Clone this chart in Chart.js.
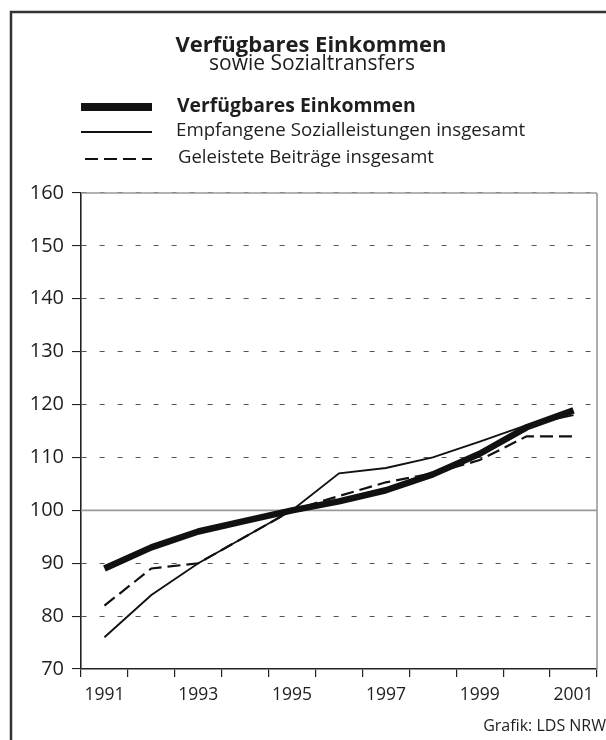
<!DOCTYPE html>
<html>
<head>
<meta charset="utf-8">
<script src="https://cdn.jsdelivr.net/npm/chart.js@4"></script>
<style>
  html, body { margin: 0; padding: 0; background: #fff; }
  canvas { display: block; }
</style>
</head>
<body>
<canvas id="grafik" width="606" height="740"></canvas>
<script>
// Daten (Index 1995 = 100)
const jahre = ['1991', '1992', '1993', '1994', '1995', '1996', '1997', '1998', '1999', '2000', '2001'];
const einkommen = [89, 93, 96, 98, 100, 101.7, 103.8, 106.8, 110.7, 115.7, 118.9];
const sozialleistungen = [76, 84, 90, 95, 100, 107, 108, 110, 113, 116.1, 118];
const beitraege = [82, 89, 90, 95, 100, 102.7, 105.3, 107, 109.5, 114, 114];
const yMin = 70;
const yMax = 160;
const yStep = 10;

const titel = 'Verfügbares Einkommen';
const untertitel = 'sowie Sozialtransfers';
const legende = ['Verfügbares Einkommen', 'Empfangene Sozialleistungen insgesamt', 'Geleistete Beiträge insgesamt'];
const quelle = 'Grafik: LDS NRW';

const schrift = '"Open Sans", "Noto Sans", sans-serif';
const textFarbe = '#1e1e1e';

// Rahmen, Titel, Legende und Hilfslinien
const dekoration = {
    id: 'dekoration',
    beforeDatasetsDraw(chart) {
        const ctx = chart.ctx;
        const area = chart.chartArea;
        const y = chart.scales.y;
        ctx.save();
        // graue durchgehende Linien (100 und oberer Rand) + rechter Rand
        ctx.strokeStyle = '#9a9a9a';
        ctx.lineWidth = 1.6;
        ctx.beginPath();
        const y100 = y.getPixelForValue(100);
        ctx.moveTo(area.left, y100); ctx.lineTo(area.right, y100);
        ctx.moveTo(area.left, area.top); ctx.lineTo(area.right, area.top);
        ctx.moveTo(area.right, area.top); ctx.lineTo(area.right, area.bottom);
        ctx.stroke();
        ctx.restore();
    },
    afterDraw(chart) {
        const ctx = chart.ctx;
        ctx.save();
        // äußerer Rahmen
        ctx.strokeStyle = '#333';
        ctx.lineWidth = 2.5;
        ctx.strokeRect(11, 12, 640, 780);

        // Titel
        ctx.fillStyle = textFarbe;
        ctx.textAlign = 'center';
        ctx.textBaseline = 'alphabetic';
        ctx.font = 'bold 22px ' + schrift;
        ctx.fillText(titel, 311, 52);
        ctx.font = '21px ' + schrift;
        ctx.fillText(untertitel, 312, 70);

        // Legende
        ctx.textAlign = 'left';
        ctx.textBaseline = 'middle';
        ctx.strokeStyle = '#111';
        ctx.lineCap = 'butt';

        ctx.lineWidth = 8;
        ctx.beginPath(); ctx.moveTo(81, 107); ctx.lineTo(152, 107); ctx.stroke();
        ctx.font = 'bold 19.4px ' + schrift;
        ctx.fillText(legende[0], 177, 106);

        ctx.lineWidth = 2;
        ctx.beginPath(); ctx.moveTo(81, 132); ctx.lineTo(152, 132); ctx.stroke();
        ctx.font = '18.7px ' + schrift;
        ctx.fillText(legende[1], 176, 131);

        ctx.lineWidth = 2;
        ctx.setLineDash([13, 6]);
        ctx.beginPath(); ctx.moveTo(85, 159); ctx.lineTo(152, 159); ctx.stroke();
        ctx.setLineDash([]);
        ctx.font = '18.5px ' + schrift;
        ctx.fillText(legende[2], 178, 158);

        // Quelle
        ctx.textAlign = 'right';
        ctx.font = '16px ' + schrift;
        ctx.fillText(quelle, 606, 726);
        ctx.restore();
    }
};

new Chart(document.getElementById('grafik').getContext('2d'), {
    type: 'line',
    data: {
        labels: jahre,
        datasets: [
            {
                label: legende[0],
                data: einkommen,
                borderColor: '#111',
                borderWidth: 6.5,
                pointRadius: 0,
                tension: 0,
                borderJoinStyle: 'round'
            },
            {
                label: legende[1],
                data: sozialleistungen,
                borderColor: '#111',
                borderWidth: 1.9,
                pointRadius: 0,
                tension: 0
            },
            {
                label: legende[2],
                data: beitraege,
                borderColor: '#111',
                borderWidth: 2.2,
                borderDash: [13, 6],
                pointRadius: 0,
                tension: 0
            }
        ]
    },
    options: {
        responsive: false,
        animation: false,
        layout: { padding: { left: 0, right: 9, top: 193, bottom: 31 } },
        plugins: {
            legend: { display: false },
            tooltip: { enabled: false }
        },
        scales: {
            x: {
                type: 'category',
                offset: true,
                grid: { offset: true, drawOnChartArea: false, tickLength: 8, color: '#222', lineWidth: 1.2 },
                border: { color: '#222', width: 1.6 },
                ticks: {
                    autoSkip: false,
                    maxRotation: 0,
                    padding: 8,
                    color: textFarbe,
                    font: { family: schrift, size: 17.5 },
                    callback: (v, i) => (i % 2 === 0 ? jahre[i] : '')
                },
                afterFit: (s) => { s.height = 40; }
            },
            y: {
                min: yMin,
                max: yMax,
                ticks: {
                    stepSize: yStep,
                    padding: 8,
                    color: textFarbe,
                    font: { family: schrift, size: 20 }
                },
                grid: { tickLength: 9, color: '#555', lineWidth: 1.1, tickColor: '#222' },
                border: { color: '#222', width: 1.6, dash: [5, 13] },
                afterFit: (s) => { s.width = 81; }
            }
        }
    },
    plugins: [dekoration]
});
</script>
</body>
</html>
